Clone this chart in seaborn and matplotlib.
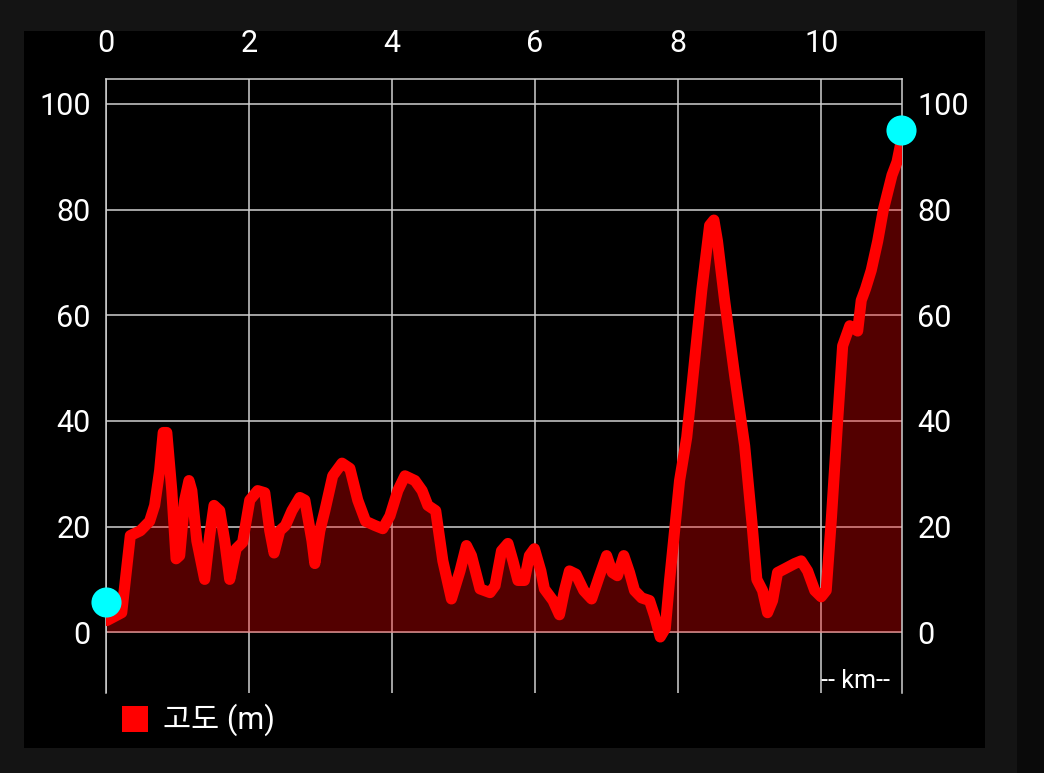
import matplotlib
matplotlib.use('Agg')
import matplotlib.pyplot as plt
from matplotlib.patches import Rectangle
import seaborn as sns

# distance (km) and elevation (m)
dist_km = [0.01, 0.22, 0.34, 0.48, 0.61, 0.68, 0.75, 0.80, 0.85, 0.92, 0.98, 1.03,
           1.10, 1.16, 1.20, 1.27, 1.38, 1.45, 1.51, 1.59, 1.66, 1.73, 1.82, 1.91,
           2.01, 2.12, 2.22, 2.29, 2.35, 2.43, 2.51, 2.60, 2.71, 2.78, 2.88, 2.92,
           2.99, 3.06, 3.17, 3.30, 3.41, 3.52, 3.63, 3.76, 3.87, 3.97, 4.08, 4.18,
           4.32, 4.42, 4.50, 4.61, 4.71, 4.83, 4.95, 5.04, 5.11, 5.23, 5.37, 5.44,
           5.53, 5.62, 5.69, 5.76, 5.85, 5.92, 5.99, 6.08, 6.13, 6.25, 6.34, 6.41,
           6.48, 6.57, 6.68, 6.79, 6.90, 7.00, 7.08, 7.15, 7.24, 7.32, 7.39, 7.49,
           7.60, 7.67, 7.75, 7.82, 7.88, 7.95, 8.02, 8.12, 8.23, 8.33, 8.44, 8.50,
           8.55, 8.65, 8.79, 8.93, 9.03, 9.10, 9.18, 9.25, 9.32, 9.39, 9.49, 9.63,
           9.72, 9.81, 9.91, 10.00, 10.07, 10.14, 10.23, 10.30, 10.40, 10.51, 10.56,
           10.62, 10.70, 10.79, 10.87, 10.99, 11.06, 11.12]
elev_m = [2.2, 3.7, 18.3, 19.2, 21.0, 24.0, 30.6, 37.8, 37.8, 26.8, 13.9, 14.5,
          25.0, 28.7, 26.8, 17.3, 10.0, 18.3, 24.0, 23.0, 17.3, 10.0, 15.8, 17.0,
          25.0, 26.8, 26.4, 19.2, 15.0, 19.2, 20.2, 23.0, 25.5, 25.0, 17.3, 13.0,
          19.2, 23.0, 29.6, 32.0, 31.0, 25.0, 21.0, 20.2, 19.6, 22.0, 26.8, 29.6,
          28.7, 26.8, 24.0, 23.0, 13.5, 6.3, 11.6, 16.4, 14.5, 8.2, 7.5, 8.8,
          15.4, 16.8, 13.5, 9.8, 9.8, 14.5, 15.8, 11.6, 8.2, 6.0, 3.3, 7.9,
          11.6, 11.0, 7.9, 6.3, 10.7, 14.5, 11.3, 10.7, 14.5, 11.3, 7.9, 6.5,
          6.0, 3.1, -0.9, 0.7, 9.8, 19.2, 28.7, 36.9, 51.4, 64.7, 77.0, 78.0,
          74.0, 62.8, 48.6, 35.3, 21.0, 10.0, 7.9, 3.7, 6.0, 11.3, 12.0, 13.0,
          13.5, 11.6, 7.9, 6.7, 7.9, 21.0, 40.0, 54.2, 58.0, 57.0, 62.8,
          65.0, 68.5, 74.0, 80.0, 86.5, 89.0, 93.0]

# start / end markers
end_x = [0.0, 11.12]
end_y = [5.8, 95.0]

x_ticks = [0, 2, 4, 6, 8, 10]
y_ticks = [0, 20, 40, 60, 80, 100]
legend_label = '고도 (m)'

FONT = ['Roboto', 'Noto Sans CJK KR', 'DejaVu Sans']
GRID = '#d0d0d0'

sns.set_style('dark')
plt.rcParams['font.family'] = FONT

fig = plt.figure(figsize=(10.44, 7.73), dpi=100)
fig.patch.set_facecolor('#141414')
# black panel and darker right strip, behind the axes
fig.patches.append(Rectangle((24 / 1044, 1 - 748 / 773), 961 / 1044, 717 / 773,
                             transform=fig.transFigure, facecolor='black',
                             edgecolor='none', zorder=-10))
fig.patches.append(Rectangle((1017 / 1044, 0), 27 / 1044, 1,
                             transform=fig.transFigure, facecolor='#0a0a0a',
                             edgecolor='none', zorder=-10))

ax = fig.add_axes([106 / 1044, 1 - 693 / 773, 796 / 1044, 614 / 773])
ax.set_facecolor('black')

ax.fill_between(dist_km, elev_m, 0, color='red', alpha=0.33, linewidth=0, zorder=1.5)
sns.lineplot(x=dist_km, y=elev_m, ax=ax, color='#ff0000', linewidth=8,
             estimator=None, sort=False, zorder=3,
             solid_joinstyle='round', solid_capstyle='round')
sns.scatterplot(x=end_x, y=end_y, ax=ax, color='#00ffff', s=470, linewidth=0,
                zorder=5, clip_on=False)

ax.set_xlim(0, 11.13)
ax.set_ylim(-11.5, 104.7)
ax.set_xticks(x_ticks)
ax.set_yticks(y_ticks)
ax.set_xlabel('')
ax.set_ylabel('')
ax.set_axisbelow(True)
ax.grid(True, color=GRID, linewidth=1.1)

ax.tick_params(axis='x', top=True, bottom=False, labeltop=True, labelbottom=False,
               length=0, pad=15, labelsize=22, labelcolor='white')
ax.tick_params(axis='y', left=True, right=True, labelleft=True, labelright=True,
               length=0, pad=11, labelsize=22, labelcolor='white')

for side in ['left', 'right', 'top']:
    ax.spines[side].set_visible(True)
    ax.spines[side].set_color(GRID)
    ax.spines[side].set_linewidth(1.1)
ax.spines['bottom'].set_visible(False)

ax.text(10.0, -9.2, '-- km--', color='white', fontsize=18, ha='left', va='center')

# legend
fig.patches.append(Rectangle((122 / 1044, 1 - 732 / 773), 26 / 1044, 26 / 773,
                             transform=fig.transFigure, facecolor='#ff0000',
                             edgecolor='none', zorder=2))
fig.text(163 / 1044, 1 - 720 / 773, legend_label, color='white', fontsize=22,
         ha='left', va='center', family=FONT)

fig.savefig('out.png', dpi=100, facecolor=fig.get_facecolor())
